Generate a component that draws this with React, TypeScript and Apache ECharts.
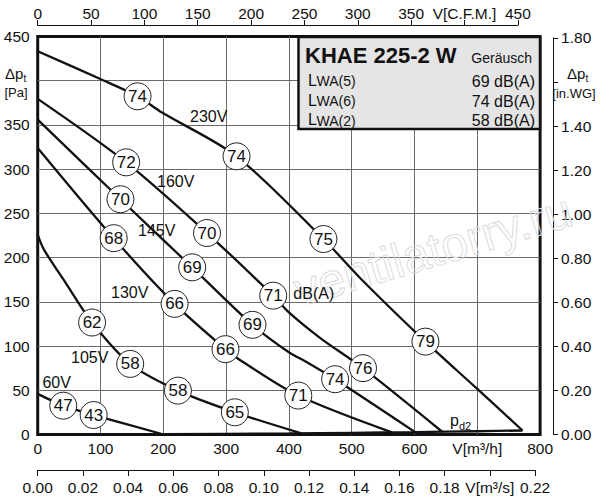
import React, { useEffect, useRef } from "react";
import * as echarts from "echarts";

// ---------- data ----------
const PA_PER_INWG = 249.089;
const CFM_PER_M3H = 0.588578;

const flowLabelsM3h = ["0", "100", "200", "300", "400", "500", "600", "V[m³/h]", "800"];
const flowLabelsCFM = ["0", "50", "100", "150", "200", "250", "300", "350", "V[C.F.M.]", "450"];
const flowLabelsM3s = ["0.00", "0.02", "0.04", "0.06", "0.08", "0.10", "0.12", "0.14", "0.16", "0.18", "V[m³/s]", "0.22"];
const pressureLabelsPa = ["0", "50", "100", "150", "200", "250", "300", "350", "", "450"];
const pressureLabelsInWG = ["0.00", "0.20", "0.40", "0.60", "0.80", "1.00", "1.20", "1.40", "", "1.80"];

// fan curves: [V m3/h, dpt Pa]
const curve230V = [[0, 433.4], [98, 402.5], [159, 382.4], [198, 364], [316.6, 314.5], [455, 221], [516, 175], [617.4, 105], [700, 51.5], [772, 4.5]];
const curve160V = [[0, 379.5], [140.9, 307.7], [269.6, 227.8], [375, 157], [400, 138], [450, 109], [518, 75], [644, 3.1]];
const curve145V = [[0, 356], [131.8, 266], [246, 189], [342, 124], [400, 93], [428, 82], [473.6, 62.5], [601, 2.7]];
const curve130V = [[0, 324], [121, 222], [218, 147.7], [299, 96.5], [322, 84.3], [415, 44], [564, 2.4]];
const curve105V = [[0, 226], [10, 209], [45, 171], [86.6, 126.6], [147.3, 79.8], [223.3, 49.6], [313.9, 25.1], [420, 1.3]];
const curve60V = [[0, 45.9], [40.7, 32.6], [89.1, 22], [199.4, 0.3]];
const curvePd2 = [[0, 0], [200, 0.3], [400, 1.2], [500, 1.9], [600, 2.7], [700, 3.7], [772, 4.5]];

// sound level markers: [V m3/h, dpt Pa, dB(A)]
const noise230V = [[159, 382.4, 74], [316.6, 314.5, 74], [455, 221, 75], [617.4, 105, 79]];
const noise160V = [[140.9, 307.7, 72], [269.6, 227.8, 70], [375, 157, 71], [518, 75, 76]];
const noise145V = [[131.8, 266, 70], [246, 189, 69], [342, 124, 69], [473.6, 62.5, 74]];
const noise130V = [[121, 222, 68], [218, 147.7, 66], [299, 96.5, 66], [415, 44, 71]];
const noise105V = [[86.6, 126.6, 62], [147.3, 79.8, 58], [223.3, 49.6, 58], [313.9, 25.1, 65]];
const noise60V = [[40.7, 32.6, 47], [89.1, 22, 43]];

const legendTitle = "KHAE 225-2 W";
const legendHeader = "Geräusch";
const legendNames = ["(5)", "(6)", "(2)"];
const legendValues = ["69 dB(A)", "74 dB(A)", "58 dB(A)"];

const FONT = '"Liberation Sans", Arial, sans-serif';
const INK = "#111";

export default function App() {
  const ref = useRef<HTMLDivElement>(null);

  useEffect(() => {
    document.body.style.margin = "0";
    const chart = echarts.init(ref.current!, null, { renderer: "svg" });

    const gLeft = 37.7;
    const gWidth = 502.4;
    const gTop = 36.5;
    const gHeight = 398;
    const maxM3h = 800;
    const maxPa = 450;
    const cfmTop = 450;
    const m3sTop = 0.22;
    const inwgTop = 1.8;
    const cfmWidth = (gWidth * (cfmTop / CFM_PER_M3H)) / maxM3h;
    const m3sWidth = (gWidth * (m3sTop * 3600)) / maxM3h;
    const inwgHeight = (gHeight * inwgTop * PA_PER_INWG) / maxPa;

    const labelStyle = { color: INK, fontSize: 15.5, fontFamily: FONT };

    const lineSeries = (data: number[][]) => ({
      type: "line",
      data,
      xAxisIndex: 0,
      yAxisIndex: 0,
      smooth: 0.3,
      symbol: "none",
      lineStyle: { color: INK, width: 2.3 },
      z: 3,
      silent: true,
    });
    const circleSeries = (data: number[][]) => ({
      type: "scatter",
      data,
      xAxisIndex: 0,
      yAxisIndex: 0,
      symbol: "circle",
      symbolSize: 27,
      itemStyle: { color: "#fff", borderColor: "#222", borderWidth: 1, opacity: 1 },
      label: {
        show: true,
        position: "inside",
        formatter: (p: any) => String(p.data[2]),
        color: INK,
        fontSize: 17,
        fontFamily: FONT,
      },
      z: 5,
      silent: true,
    });

    const txt = (text: string, x: number, y: number, size: number, align = "center", extra: any = {}) => ({
      type: "text",
      x,
      y,
      z: 20,
      silent: true,
      style: {
        text,
        fontSize: size,
        fontFamily: FONT,
        fill: INK,
        align,
        verticalAlign: "middle",
        ...extra,
      },
    });

    const hiddenX = (gridIndex: number) => ({ type: "value", gridIndex, show: false, min: 0, max: 1 });
    const hiddenY = (gridIndex: number) => ({ type: "value", gridIndex, show: false, min: 0, max: 1 });

    const legendRowY = [80, 100, 119.5];

    const option: any = {
      animation: false,
      backgroundColor: "#fff",
      grid: [
        { left: gLeft, top: gTop, width: gWidth, height: gHeight, show: true, borderColor: INK, borderWidth: 3, backgroundColor: "transparent" },
        { left: gLeft, top: 25, width: cfmWidth, height: 1 },
        { left: gLeft, top: 469, width: m3sWidth, height: 1 },
        { left: gLeft, top: gTop + gHeight - inwgHeight, width: gWidth, height: inwgHeight },
      ],
      xAxis: [
        {
          type: "value",
          gridIndex: 0,
          min: 0,
          max: maxM3h,
          interval: 100,
          position: "bottom",
          axisLine: { show: false },
          axisTick: { show: false },
          splitLine: { show: true, showMinLine: false, showMaxLine: false, lineStyle: { color: "#6a6a6a", width: 1 } },
          axisLabel: { ...labelStyle, margin: 6, formatter: (v: number) => flowLabelsM3h[Math.round(v / 100)] ?? "" },
        },
        {
          type: "value",
          gridIndex: 1,
          min: 0,
          max: cfmTop,
          interval: 50,
          position: "top",
          axisLine: { show: true, onZero: false, lineStyle: { color: INK, width: 1 } },
          axisTick: { show: true, length: 5, lineStyle: { color: INK, width: 1 } },
          splitLine: { show: false },
          axisLabel: { ...labelStyle, margin: 4, formatter: (v: number) => flowLabelsCFM[Math.round(v / 50)] ?? "" },
        },
        {
          type: "value",
          gridIndex: 2,
          min: 0,
          max: m3sTop,
          interval: 0.02,
          position: "bottom",
          axisLine: { show: true, onZero: false, lineStyle: { color: INK, width: 1 } },
          axisTick: { show: true, length: 6, lineStyle: { color: INK, width: 1 } },
          splitLine: { show: false },
          axisLabel: { ...labelStyle, margin: 9, formatter: (v: number) => flowLabelsM3s[Math.round(v / 0.02)] ?? "" },
        },
        hiddenX(3),
      ],
      yAxis: [
        {
          type: "value",
          gridIndex: 0,
          min: 0,
          max: maxPa,
          interval: 50,
          position: "left",
          axisLine: { show: false },
          axisTick: { show: false },
          splitLine: { show: true, showMinLine: false, showMaxLine: false, lineStyle: { color: "#6a6a6a", width: 1 } },
          axisLabel: { ...labelStyle, margin: 8, formatter: (v: number) => pressureLabelsPa[Math.round(v / 50)] ?? "" },
        },
        hiddenY(1),
        hiddenY(2),
        {
          type: "value",
          gridIndex: 3,
          min: 0,
          max: inwgTop,
          interval: 0.2,
          position: "right",
          offset: 13,
          axisLine: { show: true, onZero: false, lineStyle: { color: INK, width: 1 } },
          axisTick: { show: true, length: 5, lineStyle: { color: INK, width: 1 } },
          splitLine: { show: false },
          axisLabel: { ...labelStyle, margin: 8, formatter: (v: number) => pressureLabelsInWG[Math.round(v / 0.2)] ?? "" },
        },
      ],
      series: [
        lineSeries(curvePd2),
        lineSeries(curve230V),
        lineSeries(curve160V),
        lineSeries(curve145V),
        lineSeries(curve130V),
        lineSeries(curve105V),
        lineSeries(curve60V),
        circleSeries(noise230V),
        circleSeries(noise160V),
        circleSeries(noise145V),
        circleSeries(noise130V),
        circleSeries(noise105V),
        circleSeries(noise60V),
      ],
      graphic: [
        {
          type: "text",
          x: 433,
          y: 250,
          rotation: 0.29,
          z: 1,
          silent: true,
          style: {
            text: "ventilatorry.ru",
            fontSize: 48,
            fontFamily: FONT,
            fill: "rgba(0,0,0,0)",
            stroke: "#dcdcdc",
            lineWidth: 1,
            align: "center",
            verticalAlign: "middle",
          },
        },
        // axis titles
        txt("Δp", 5, 73, 15, "left"),
        txt("t", 23.5, 78, 10, "left"),
        txt("[Pa]", 16, 92, 13),
        txt("Δp", 567, 73, 15, "left"),
        txt("t", 585.5, 78, 10, "left"),
        txt("[in.WG]", 574, 93, 13),
        // curve labels
        txt("230V", 208.7, 116, 16),
        txt("160V", 175.7, 181, 16),
        txt("145V", 156.7, 230, 16),
        txt("130V", 129.7, 292.7, 16),
        txt("105V", 89.7, 357.5, 16),
        txt("60V", 56.7, 382.5, 16),
        txt("dB(A)", 313.8, 293.8, 16),
        txt("p", 450, 420, 16, "left"),
        txt("d2", 459, 426, 11, "left"),
        // legend box
        {
          type: "rect",
          z: 15,
          silent: true,
          shape: { x: 298.5, y: 37, width: 241.5, height: 92 },
          style: { fill: "#e5e5e5", stroke: INK, lineWidth: 2.5 },
        },
        txt(legendTitle, 305, 55, 22, "left", { fontWeight: "bold" }),
        txt(legendHeader, 532, 58, 14, "right"),
        ...legendNames.flatMap((n, i) => [
          txt("L", 308, legendRowY[i], 16, "left"),
          txt("WA" + n, 316.5, legendRowY[i] + 1.2, 14, "left"),
          txt(legendValues[i], 535, legendRowY[i] + 1, 16, "right"),
        ]),
      ],
    };

    chart.setOption(option);
    return () => chart.dispose();
  }, []);

  return <div ref={ref} style={{ width: 600, height: 500 }} />;
}
